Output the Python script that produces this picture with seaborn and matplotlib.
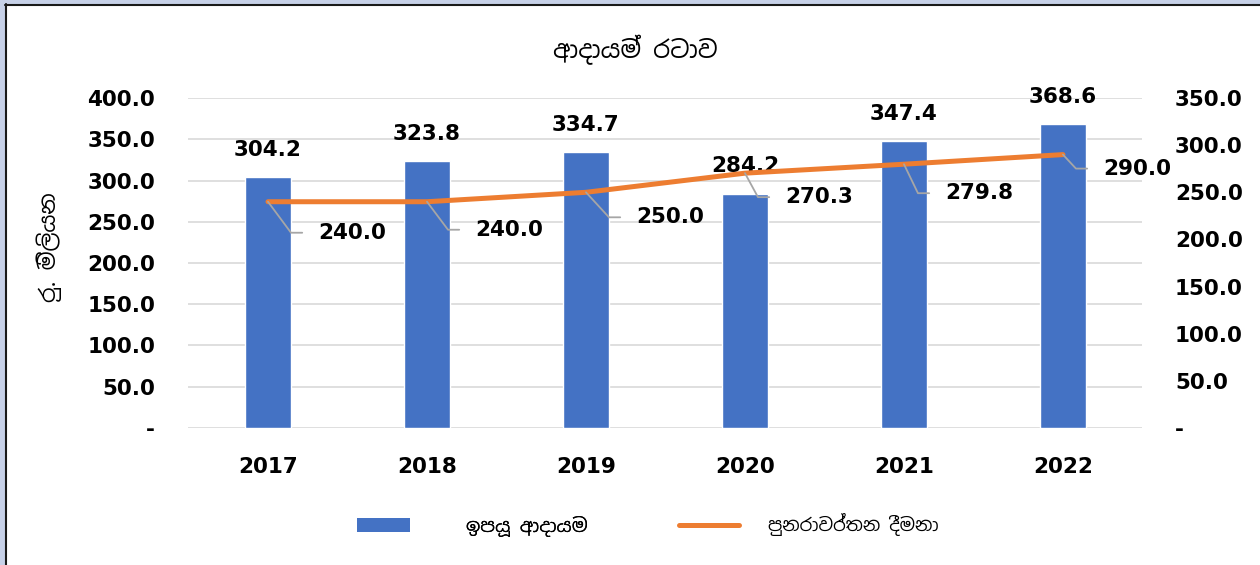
import matplotlib
matplotlib.use("Agg")
import numpy as np
import pandas as pd
import matplotlib.pyplot as plt
import seaborn as sns
from matplotlib import font_manager
from matplotlib.patches import Patch, Rectangle
from matplotlib.lines import Line2D

# data
years = ["2017", "2018", "2019", "2020", "2021", "2022"]
earned_income = [304.2, 323.8, 334.7, 284.2, 347.4, 368.6]
recurring_allowance = [240.0, 240.0, 250.0, 270.3, 279.8, 290.0]

left_ticks = [0, 50, 100, 150, 200, 250, 300, 350, 400]
right_ticks = [0, 50, 100, 150, 200, 250, 300, 350]

title_text = "ආදායම් රටාව"
ylabel_text = "රු. මිලියන"
bar_name = "ඉපයූ ආදායම"
line_name = "පුනරාවර්තන දීමනා"

BAR_COLOR = "#4472C4"
LINE_COLOR = "#ED7D31"
GRID_COLOR = "#D9D9D9"
LEADER_COLOR = "#A6A6A6"

# label offsets for the line values, in pixels (right, down)
line_label_offsets = [(50, 31), (48, 28), (50, 25), (40, 24), (41, 29), (40, 14)]


def find_sinhala_font():
    # look for any installed font that can draw Sinhala
    try:
        from fontTools.ttLib import TTFont
    except ImportError:
        return None
    for f in font_manager.fontManager.ttflist:
        if "sinhala" in f.name.lower():
            return f.name
    for f in font_manager.fontManager.ttflist:
        try:
            tt = TTFont(f.fname, fontNumber=0, lazy=True)
            cmap = tt.getBestCmap() or {}
            if 0x0D86 in cmap and 0x0DBA in cmap:
                return f.name
        except Exception:
            continue
    return None


sns.set_style("white")
plt.rcParams["font.family"] = ["DejaVu Sans"]
plt.rcParams["text.color"] = "black"
plt.rcParams["xtick.color"] = "black"
plt.rcParams["ytick.color"] = "black"
plt.rcParams["axes.labelcolor"] = "black"
sinhala = find_sinhala_font()
sin_family = [sinhala, "DejaVu Sans"] if sinhala else ["DejaVu Sans"]

df = pd.DataFrame({"year": years, "income": earned_income, "allowance": recurring_allowance})
df["pos"] = np.arange(len(df))

fig = plt.figure(figsize=(12.6, 5.65), dpi=100)
ax = fig.add_axes([0.1496, 0.2425, 0.7571, 0.584])

sns.barplot(data=df, x="year", y="income", ax=ax, color=BAR_COLOR,
            saturation=1, width=0.29, zorder=2)
ax.set_xlim(-0.5, len(years) - 0.5)
ax.set_ylim(0, 400)
ax.set_yticks(left_ticks)
ax.set_yticklabels([f"{t:.1f}" if t else "-" for t in left_ticks])
ax.yaxis.grid(True, color=GRID_COLOR, linewidth=1.2, zorder=0)
ax.set_axisbelow(True)
ax.set_xlabel("")
ax.set_ylabel("")
for s in ax.spines.values():
    s.set_visible(False)
ax.tick_params(axis="x", length=0, pad=21, labelsize=15.5, labelcolor="black")
ax.tick_params(axis="y", length=0, pad=24, labelsize=15.5, labelcolor="black")
for lbl in ax.get_xticklabels() + ax.get_yticklabels():
    lbl.set_fontweight("bold")

# bar value labels
for i, v in enumerate(earned_income):
    ax.annotate(f"{v:.1f}", xy=(i, v), xytext=(0, 19.5), textcoords="offset points",
                ha="center", va="center", fontsize=15.5, fontweight="bold", color="black")

ax2 = ax.twinx()
sns.lineplot(data=df, x="pos", y="allowance", ax=ax2, color=LINE_COLOR,
             linewidth=3.6, sort=False, zorder=3)
ax2.set_xlim(-0.5, len(years) - 0.5)
ax2.set_ylim(0, 350)
ax2.set_yticks(right_ticks)
ax2.set_yticklabels([f"{t:.1f}" if t else "-" for t in right_ticks])
ax2.set_ylabel("")
ax2.set_xlabel("")
for s in ax2.spines.values():
    s.set_visible(False)
ax2.tick_params(axis="y", length=0, pad=23.4, labelsize=15.5, labelcolor="black")
for lbl in ax2.get_yticklabels():
    lbl.set_fontweight("bold")

# line value labels with leader lines
for i, v in enumerate(recurring_allowance):
    dx, dy = line_label_offsets[i]
    ax2.annotate(f"{v:.1f}", xy=(i, v), xytext=(dx * 0.72, -dy * 0.72),
                 textcoords="offset points", ha="left", va="center",
                 fontsize=15.5, fontweight="bold", color="black",
                 arrowprops=dict(arrowstyle="-", color=LEADER_COLOR, lw=1.3,
                                 relpos=(0, 0.5), shrinkA=9, shrinkB=0,
                                 connectionstyle="arc,angleA=180,armA=27,armB=0,rad=0"))

fig.text(635 / 1260, 1 - 50 / 565, title_text, ha="center", va="center",
         fontsize=17.5, family=sin_family, color="black")
fig.text(49 / 1260, 1 - 247 / 565, ylabel_text, ha="center", va="center",
         rotation=90, fontsize=16, family=sin_family, color="black")

# legend, two parts to match the spacing of the original
leg1 = fig.legend(handles=[Patch(facecolor=BAR_COLOR, edgecolor="none")], labels=[bar_name],
                  loc="center left", bbox_to_anchor=(348 / 1260, 1 - 526 / 565),
                  frameon=False, borderpad=0, handlelength=2.8, handleheight=0.85,
                  handletextpad=3.0, prop={"family": sin_family, "size": 13.5})
for t in leg1.get_texts():
    t.set_color("black")
leg2 = fig.legend(handles=[Line2D([], [], color=LINE_COLOR, lw=3.6)], labels=[line_name],
                  loc="center left", bbox_to_anchor=(670 / 1260, 1 - 525 / 565),
                  frameon=False, borderpad=0, handlelength=3.3,
                  handletextpad=1.65, prop={"family": sin_family, "size": 13})
for t in leg2.get_texts():
    t.set_color("black")
fig.add_artist(leg1)

# outer frame like the screenshot
fig.patches.append(Rectangle((0, 0), 5 / 1260, 1, transform=fig.transFigure,
                             facecolor="#C7D1E8", edgecolor="none", zorder=0))
fig.patches.append(Rectangle((0, 1 - 4 / 565), 1, 4 / 565, transform=fig.transFigure,
                             facecolor="#C7D1E8", edgecolor="none", zorder=0))
fig.add_artist(Line2D([6 / 1260, 6 / 1260], [0, 1 - 4 / 565], transform=fig.transFigure,
                      color="#1A1A1A", lw=1.5))
fig.add_artist(Line2D([5 / 1260, 1], [1 - 5 / 565, 1 - 5 / 565], transform=fig.transFigure,
                      color="#1A1A1A", lw=1.5))

fig.savefig("out.png", dpi=100)
